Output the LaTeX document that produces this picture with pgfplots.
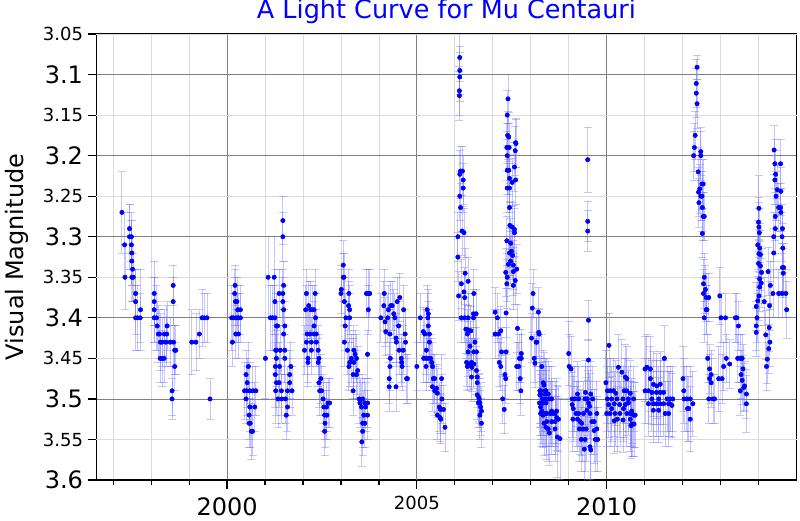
\documentclass[border=0pt]{standalone}
\usepackage{fontspec}
\setmainfont{DejaVu Sans}
\usepackage{pgfplots}
\pgfplotsset{compat=1.18}
\usepackage{pgfplotstable}

% visual magnitude estimates
\pgfplotstableread{
year mag err
1997.23 3.270 0.050
1997.30 3.310 0.040
1997.31 3.350 0.040
1997.43 3.290 0.030
1997.43 3.300 0.040
1997.48 3.300 0.030
1997.48 3.310 0.030
1997.49 3.320 0.040
1997.49 3.330 0.030
1997.51 3.340 0.040
1997.49 3.350 0.030
1997.53 3.350 0.030
1997.59 3.370 0.030
1997.59 3.380 0.040
1997.59 3.400 0.040
1997.64 3.400 0.040
1997.71 3.400 0.030
1997.72 3.390 0.050
1998.08 3.370 0.040
1998.08 3.380 0.030
1998.08 3.390 0.040
1998.08 3.400 0.030
1998.14 3.400 0.040
1998.16 3.410 0.030
1998.19 3.420 0.035
1998.22 3.420 0.030
1998.24 3.430 0.035
1998.29 3.430 0.030
1998.24 3.450 0.030
1998.29 3.450 0.035
1998.34 3.450 0.030
1998.35 3.420 0.030
1998.41 3.420 0.035
1998.39 3.430 0.030
1998.42 3.410 0.030
1998.50 3.430 0.030
1998.58 3.360 0.025
1998.58 3.380 0.030
1998.59 3.430 0.030
1998.62 3.440 0.030
1998.65 3.440 0.030
1998.62 3.460 0.030
1998.55 3.490 0.030
1998.55 3.500 0.025
1999.07 3.430 0.040
1999.18 3.430 0.035
1999.27 3.420 0.030
1999.34 3.400 0.035
1999.40 3.400 0.030
1999.47 3.400 0.030
1999.55 3.500 0.025
2000.12 3.400 0.040
2000.16 3.400 0.030
2000.14 3.430 0.030
2000.21 3.360 0.025
2000.20 3.370 0.030
2000.22 3.380 0.030
2000.26 3.380 0.030
2000.24 3.400 0.030
2000.30 3.400 0.030
2000.35 3.400 0.030
2000.28 3.390 0.030
2000.35 3.390 0.030
2000.23 3.420 0.030
2000.30 3.420 0.030
2000.56 3.460 0.030
2000.50 3.470 0.030
2000.53 3.480 0.030
2000.46 3.490 0.035
2000.52 3.490 0.030
2000.60 3.490 0.035
2000.68 3.490 0.030
2000.76 3.490 0.030
2000.50 3.500 0.030
2000.60 3.510 0.030
2000.73 3.510 0.030
2000.58 3.520 0.030
2000.58 3.530 0.030
2000.61 3.530 0.030
2000.64 3.540 0.035
2000.67 3.540 0.030
2001.01 3.450 0.050
2001.08 3.350 0.050
2001.24 3.350 0.050
2001.14 3.400 0.040
2001.20 3.400 0.040
2001.26 3.400 0.040
2001.26 3.380 0.040
2001.30 3.410 0.040
2001.28 3.440 0.040
2001.28 3.490 0.040
2001.27 3.460 0.040
2001.27 3.470 0.040
2001.30 3.480 0.040
2001.34 3.500 0.035
2001.30 3.450 0.035
2001.47 3.280 0.030
2001.47 3.300 0.030
2001.37 3.370 0.030
2001.47 3.370 0.030
2001.49 3.360 0.030
2001.47 3.380 0.030
2001.49 3.390 0.030
2001.33 3.410 0.030
2001.52 3.410 0.030
2001.49 3.420 0.030
2001.30 3.440 0.030
2001.40 3.440 0.030
2001.52 3.440 0.030
2001.52 3.450 0.030
2001.38 3.460 0.030
2001.68 3.460 0.030
2001.65 3.470 0.030
2001.37 3.480 0.030
2001.65 3.480 0.030
2001.43 3.490 0.030
2001.59 3.490 0.030
2001.71 3.490 0.030
2001.44 3.500 0.030
2001.54 3.500 0.030
2001.59 3.510 0.030
2001.56 3.520 0.030
2002.09 3.370 0.030
2002.15 3.385 0.030
2002.07 3.390 0.030
2002.20 3.390 0.035
2002.24 3.390 0.030
2002.29 3.390 0.030
2002.32 3.370 0.030
2002.33 3.400 0.030
2002.29 3.410 0.030
2002.11 3.420 0.030
2002.18 3.420 0.030
2002.29 3.420 0.030
2002.35 3.420 0.030
2002.09 3.430 0.030
2002.22 3.430 0.030
2002.35 3.430 0.030
2002.04 3.440 0.030
2002.22 3.440 0.030
2002.40 3.440 0.030
2002.13 3.450 0.030
2002.42 3.450 0.030
2002.13 3.455 0.030
2002.40 3.455 0.030
2002.47 3.475 0.030
2002.42 3.480 0.030
2002.44 3.490 0.030
2002.49 3.490 0.030
2002.53 3.500 0.030
2002.66 3.505 0.030
2002.70 3.505 0.030
2002.55 3.510 0.030
2002.62 3.510 0.030
2002.57 3.520 0.030
2002.63 3.520 0.030
2002.58 3.530 0.030
2002.57 3.540 0.030
2003.06 3.335 0.030
2003.06 3.350 0.030
2003.08 3.350 0.030
2003.01 3.365 0.030
2003.00 3.370 0.030
2003.21 3.370 0.030
2003.09 3.380 0.030
2003.20 3.385 0.030
2003.23 3.390 0.030
2003.13 3.400 0.030
2003.23 3.400 0.030
2003.11 3.410 0.030
2003.09 3.430 0.030
2003.17 3.440 0.030
2003.34 3.440 0.030
2003.37 3.445 0.030
2003.27 3.450 0.030
2003.41 3.450 0.030
2003.23 3.455 0.030
2003.34 3.455 0.030
2003.21 3.460 0.030
2003.44 3.465 0.030
2003.32 3.470 0.030
2003.41 3.470 0.030
2003.32 3.490 0.030
2003.48 3.500 0.030
2003.57 3.500 0.030
2003.50 3.505 0.030
2003.63 3.505 0.030
2003.54 3.510 0.030
2003.65 3.510 0.030
2003.60 3.520 0.030
2003.57 3.530 0.030
2003.63 3.530 0.030
2003.57 3.540 0.030
2003.55 3.553 0.030
2003.67 3.370 0.030
2003.70 3.445 0.030
2003.72 3.370 0.030
2003.76 3.370 0.030
2003.72 3.390 0.030
2003.70 3.505 0.030
2003.70 3.520 0.030
2004.05 3.400 0.030
2004.14 3.370 0.030
2004.13 3.385 0.030
2004.16 3.405 0.030
2004.18 3.417 0.030
2004.23 3.400 0.030
2004.25 3.390 0.030
2004.31 3.385 0.030
2004.35 3.385 0.030
2004.39 3.395 0.030
2004.29 3.420 0.030
2004.30 3.450 0.030
2004.29 3.460 0.030
2004.27 3.475 0.030
2004.27 3.485 0.030
2004.45 3.425 0.030
2004.46 3.430 0.030
2004.42 3.400 0.030
2004.52 3.410 0.030
2004.48 3.380 0.030
2004.55 3.375 0.030
2004.65 3.390 0.030
2004.69 3.420 0.030
2004.70 3.430 0.030
2004.53 3.440 0.030
2004.64 3.440 0.030
2004.59 3.450 0.030
2004.60 3.455 0.030
2004.61 3.460 0.030
2004.73 3.475 0.030
2004.75 3.475 0.030
2004.45 3.485 0.030
2005.00 3.460 0.030
2005.09 3.400 0.030
2005.17 3.417 0.030
2005.21 3.420 0.030
2005.27 3.390 0.030
2005.30 3.395 0.030
2005.29 3.400 0.030
2005.30 3.410 0.030
2005.33 3.420 0.030
2005.33 3.430 0.030
2005.18 3.450 0.030
2005.24 3.450 0.030
2005.30 3.450 0.030
2005.36 3.450 0.030
2005.25 3.440 0.030
2005.24 3.460 0.030
2005.39 3.455 0.030
2005.41 3.460 0.030
2005.43 3.475 0.030
2005.47 3.475 0.030
2005.41 3.485 0.030
2005.47 3.490 0.030
2005.52 3.487 0.030
2005.54 3.493 0.030
2005.65 3.475 0.030
2005.66 3.500 0.030
2005.59 3.510 0.030
2005.62 3.513 0.030
2005.70 3.513 0.030
2005.54 3.520 0.030
2005.61 3.523 0.030
2005.63 3.525 0.030
2005.74 3.535 0.030
2006.13 3.079 0.030
2006.13 3.095 0.030
2006.13 3.103 0.030
2006.12 3.120 0.030
2006.12 3.126 0.030
2006.15 3.219 0.030
2006.20 3.219 0.030
2006.13 3.223 0.030
2006.22 3.230 0.030
2006.22 3.240 0.030
2006.13 3.250 0.030
2006.15 3.264 0.030
2006.19 3.293 0.030
2006.24 3.295 0.030
2006.08 3.300 0.030
2006.08 3.325 0.030
2006.10 3.373 0.030
2006.27 3.345 0.030
2006.17 3.358 0.030
2006.35 3.355 0.030
2006.24 3.368 0.030
2006.26 3.375 0.030
2006.17 3.400 0.030
2006.26 3.400 0.030
2006.35 3.400 0.030
2006.49 3.400 0.030
2006.50 3.370 0.030
2006.29 3.414 0.030
2006.35 3.415 0.030
2006.42 3.416 0.030
2006.49 3.395 0.030
2006.56 3.395 0.030
2006.33 3.420 0.030
2006.40 3.435 0.030
2006.35 3.442 0.030
2006.53 3.430 0.030
2006.50 3.442 0.030
2006.57 3.442 0.030
2006.31 3.455 0.030
2006.38 3.458 0.030
2006.44 3.455 0.030
2006.50 3.457 0.030
2006.33 3.460 0.030
2006.45 3.461 0.030
2006.44 3.473 0.030
2006.57 3.465 0.030
2006.59 3.473 0.030
2006.59 3.480 0.030
2006.59 3.495 0.030
2006.63 3.498 0.030
2006.64 3.500 0.030
2006.66 3.505 0.030
2006.62 3.505 0.030
2006.68 3.510 0.030
2006.70 3.515 0.030
2006.66 3.520 0.030
2006.70 3.530 0.030
2007.40 3.130 0.030
2007.38 3.150 0.030
2007.39 3.175 0.030
2007.42 3.177 0.030
2007.37 3.190 0.030
2007.43 3.190 0.030
2007.38 3.200 0.030
2007.60 3.184 0.030
2007.61 3.185 0.030
2007.59 3.194 0.030
2007.57 3.214 0.030
2007.38 3.218 0.030
2007.42 3.218 0.030
2007.44 3.228 0.030
2007.51 3.233 0.030
2007.60 3.230 0.030
2007.38 3.240 0.030
2007.44 3.240 0.030
2007.44 3.264 0.030
2007.45 3.286 0.030
2007.51 3.288 0.030
2007.57 3.291 0.030
2007.57 3.295 0.030
2007.37 3.305 0.030
2007.47 3.308 0.030
2007.44 3.320 0.030
2007.49 3.318 0.030
2007.52 3.323 0.030
2007.47 3.330 0.030
2007.41 3.334 0.030
2007.54 3.335 0.030
2007.63 3.340 0.030
2007.34 3.344 0.030
2007.37 3.358 0.030
2007.38 3.350 0.030
2007.54 3.343 0.030
2007.59 3.354 0.030
2007.54 3.360 0.030
2007.35 3.394 0.030
2007.06 3.393 0.030
2007.12 3.400 0.030
2007.06 3.420 0.030
2007.15 3.420 0.030
2007.21 3.416 0.030
2007.17 3.455 0.030
2007.21 3.460 0.030
2007.23 3.442 0.030
2007.35 3.442 0.030
2007.32 3.470 0.030
2007.34 3.475 0.030
2007.26 3.500 0.030
2007.30 3.513 0.030
2007.65 3.413 0.030
2007.70 3.450 0.030
2007.75 3.450 0.030
2007.63 3.460 0.030
2007.68 3.460 0.030
2007.72 3.475 0.030
2007.74 3.490 0.030
2007.75 3.444 0.030
2008.06 3.370 0.030
2008.04 3.388 0.030
2008.02 3.425 0.030
2008.14 3.430 0.030
2008.09 3.450 0.030
2008.11 3.456 0.030
2008.21 3.418 0.030
2008.24 3.490 0.040
2008.26 3.495 0.040
2008.29 3.505 0.040
2008.33 3.505 0.040
2008.40 3.505 0.040
2008.35 3.483 0.040
2008.40 3.490 0.040
2008.26 3.510 0.040
2008.32 3.520 0.040
2008.39 3.518 0.040
2008.35 3.530 0.040
2008.40 3.535 0.040
2008.20 3.393 0.030
2008.22 3.420 0.030
2008.16 3.430 0.030
2008.29 3.460 0.040
2008.33 3.480 0.040
2008.38 3.490 0.040
2008.26 3.490 0.040
2008.24 3.495 0.040
2008.23 3.505 0.040
2008.31 3.500 0.040
2008.40 3.500 0.040
2008.49 3.500 0.040
2008.55 3.500 0.040
2008.38 3.494 0.040
2008.46 3.494 0.040
2008.26 3.518 0.040
2008.33 3.518 0.040
2008.42 3.518 0.040
2008.51 3.518 0.040
2008.58 3.518 0.040
2008.64 3.518 0.040
2008.29 3.515 0.040
2008.55 3.515 0.040
2008.68 3.515 0.040
2008.42 3.528 0.040
2008.55 3.528 0.040
2008.64 3.528 0.040
2008.46 3.537 0.040
2008.49 3.542 0.040
2008.64 3.537 0.040
2008.70 3.547 0.050
2008.77 3.549 0.050
2008.68 3.523 0.040
2008.73 3.525 0.040
2009.00 3.444 0.040
2009.01 3.460 0.040
2009.06 3.463 0.040
2009.09 3.500 0.040
2009.16 3.500 0.040
2009.26 3.500 0.040
2009.43 3.500 0.040
2009.49 3.500 0.040
2009.09 3.507 0.040
2009.12 3.512 0.040
2009.19 3.518 0.040
2009.26 3.518 0.040
2009.39 3.518 0.040
2009.48 3.514 0.040
2009.56 3.518 0.040
2009.52 3.505 0.040
2009.55 3.509 0.040
2009.23 3.494 0.040
2009.44 3.492 0.040
2009.58 3.494 0.040
2009.63 3.500 0.040
2009.11 3.525 0.040
2009.23 3.525 0.040
2009.30 3.528 0.040
2009.34 3.530 0.040
2009.28 3.537 0.040
2009.37 3.537 0.040
2009.46 3.537 0.040
2009.67 3.539 0.040
2009.74 3.537 0.040
2009.33 3.550 0.040
2009.43 3.550 0.040
2009.70 3.550 0.040
2009.76 3.550 0.040
2009.41 3.562 0.040
2009.56 3.559 0.040
2009.58 3.563 0.040
2009.61 3.528 0.040
2009.67 3.528 0.040
2009.74 3.518 0.040
2009.50 3.205 0.040
2009.50 3.281 0.025
2009.50 3.293 0.025
2009.52 3.403 0.025
2009.52 3.452 0.025
2010.06 3.434 0.040
2009.98 3.480 0.040
2010.02 3.490 0.040
2010.09 3.490 0.040
2010.18 3.490 0.040
2010.24 3.493 0.040
2010.02 3.500 0.040
2010.13 3.500 0.040
2010.27 3.500 0.040
2010.43 3.500 0.040
2010.05 3.507 0.040
2010.20 3.506 0.040
2010.34 3.507 0.040
2010.49 3.507 0.040
2010.00 3.518 0.040
2010.09 3.518 0.040
2010.22 3.518 0.040
2010.35 3.518 0.040
2010.53 3.518 0.040
2010.66 3.518 0.040
2010.13 3.512 0.040
2010.44 3.512 0.040
2010.20 3.527 0.040
2010.28 3.525 0.040
2010.43 3.526 0.040
2010.31 3.461 0.040
2010.40 3.467 0.040
2010.49 3.473 0.040
2010.53 3.475 0.040
2010.46 3.490 0.040
2010.53 3.490 0.040
2010.62 3.493 0.040
2010.57 3.500 0.040
2010.71 3.500 0.040
2010.62 3.525 0.040
2010.66 3.531 0.040
2010.72 3.531 0.040
2010.57 3.505 0.040
2010.62 3.518 0.040
2010.66 3.515 0.040
2010.71 3.520 0.040
2010.75 3.520 0.040
2010.64 3.533 0.040
2010.69 3.531 0.040
2011.01 3.463 0.040
2011.06 3.461 0.040
2011.15 3.463 0.040
2011.15 3.475 0.040
2011.01 3.490 0.040
2011.10 3.490 0.040
2011.19 3.492 0.040
2011.31 3.492 0.040
2011.41 3.492 0.040
2011.50 3.492 0.040
2011.23 3.482 0.040
2011.32 3.484 0.040
2011.41 3.482 0.040
2011.10 3.506 0.040
2011.23 3.506 0.040
2011.32 3.506 0.040
2011.41 3.506 0.040
2011.50 3.506 0.040
2011.63 3.506 0.040
2011.19 3.500 0.040
2011.37 3.500 0.040
2011.59 3.500 0.040
2011.67 3.500 0.040
2011.74 3.500 0.040
2011.23 3.514 0.040
2011.37 3.514 0.040
2011.54 3.518 0.040
2011.63 3.518 0.040
2011.52 3.450 0.040
2011.66 3.506 0.040
2011.72 3.508 0.040
2012.01 3.475 0.040
2012.03 3.490 0.040
2012.04 3.500 0.040
2012.11 3.500 0.040
2012.20 3.500 0.040
2012.27 3.506 0.040
2012.13 3.512 0.040
2012.16 3.512 0.040
2012.20 3.525 0.040
2012.38 3.091 0.015
2012.36 3.111 0.030
2012.36 3.123 0.030
2012.38 3.136 0.030
2012.33 3.175 0.030
2012.31 3.190 0.030
2012.29 3.200 0.030
2012.48 3.195 0.030
2012.48 3.200 0.030
2012.41 3.220 0.030
2012.45 3.241 0.030
2012.42 3.245 0.030
2012.51 3.235 0.030
2012.54 3.235 0.030
2012.48 3.250 0.030
2012.51 3.250 0.030
2012.43 3.258 0.030
2012.52 3.264 0.030
2012.54 3.275 0.030
2012.57 3.275 0.030
2012.52 3.296 0.030
2012.57 3.350 0.030
2012.55 3.358 0.030
2012.60 3.365 0.030
2012.55 3.370 0.030
2012.62 3.375 0.030
2012.62 3.390 0.030
2012.57 3.400 0.030
2012.66 3.450 0.030
2012.71 3.475 0.030
2012.75 3.480 0.030
2012.69 3.500 0.030
2012.80 3.500 0.030
2012.84 3.500 0.030
2012.69 3.375 0.030
2012.64 3.390 0.030
2012.71 3.463 0.030
2012.75 3.470 0.030
2012.98 3.373 0.035
2013.01 3.400 0.030
2013.13 3.400 0.030
2012.95 3.475 0.040
2013.04 3.475 0.030
2013.08 3.460 0.030
2013.15 3.450 0.030
2013.24 3.457 0.030
2013.39 3.400 0.030
2013.43 3.400 0.030
2013.47 3.410 0.030
2013.45 3.450 0.030
2013.52 3.450 0.030
2013.57 3.450 0.030
2013.59 3.463 0.030
2013.54 3.470 0.030
2013.57 3.477 0.030
2013.63 3.484 0.030
2013.68 3.494 0.030
2013.52 3.490 0.030
2013.61 3.486 0.030
2013.68 3.506 0.035
2013.94 3.386 0.030
2013.96 3.400 0.030
2013.94 3.410 0.030
2013.94 3.418 0.030
2014.01 3.265 0.040
2014.00 3.282 0.030
2014.01 3.288 0.030
2014.02 3.295 0.030
2013.98 3.310 0.030
2014.03 3.314 0.030
2014.01 3.321 0.030
2014.05 3.322 0.030
2014.00 3.333 0.030
2014.05 3.336 0.030
2014.08 3.344 0.030
2014.03 3.352 0.030
2014.07 3.357 0.030
2014.03 3.362 0.030
2014.01 3.373 0.030
2013.98 3.379 0.030
2014.15 3.380 0.030
2014.19 3.421 0.030
2014.23 3.451 0.030
2014.21 3.460 0.030
2014.27 3.438 0.030
2014.30 3.430 0.030
2014.28 3.412 0.030
2014.29 3.385 0.030
2014.25 3.343 0.030
2014.31 3.360 0.030
2014.41 3.193 0.030
2014.43 3.210 0.030
2014.45 3.223 0.030
2014.43 3.230 0.030
2014.46 3.250 0.030
2014.49 3.242 0.030
2014.53 3.264 0.030
2014.58 3.264 0.030
2014.58 3.210 0.030
2014.59 3.244 0.030
2014.44 3.275 0.030
2014.40 3.300 0.030
2014.59 3.270 0.030
2014.63 3.290 0.030
2014.62 3.300 0.030
2014.44 3.290 0.030
2014.40 3.320 0.030
2014.64 3.314 0.030
2014.63 3.338 0.030
2014.65 3.345 0.030
2014.66 3.338 0.030
2014.38 3.370 0.030
2014.53 3.370 0.030
2014.62 3.370 0.030
2014.72 3.370 0.030
2014.74 3.390 0.035
}\mucen

\newcommand{\bigfont}{\fontsize{24}{24}\selectfont}
\newcommand{\smallfont}{\fontsize{18}{18}\selectfont}
\definecolor{barblue}{RGB}{110,110,255}

\begin{document}
\begin{tikzpicture}
\path[use as bounding box] (-96.5pt,-40pt) rectangle (703.5pt,480pt);
\begin{axis}[
  scale only axis,
  width=700pt, height=446pt,
  xmin=1996.56, xmax=2015.0,
  ymin=3.05, ymax=3.6,
  y dir=reverse,
  axis line style={line width=1.5pt},
  xtick={2000,2010},
  xticklabels={2000,2010},
  extra x ticks={2005},
  extra x tick labels={2005},
  extra x tick style={tick label style={font=\smallfont, yshift=1pt}},
  minor xtick={1997,1998,1999,2001,2002,2003,2004,2006,2007,2008,2009,2011,2012,2013,2014},
  ytick={3.1,3.2,3.3,3.4,3.5,3.6},
  yticklabels={3.1,3.2,3.3,3.4,3.5,3.6},
  extra y ticks={3.05,3.15,3.25,3.35,3.45,3.55},
  extra y tick labels={3.05,3.15,3.25,3.35,3.45,3.55},
  extra y tick style={
    tick label style={font=\smallfont},
    major grid style={black!14, line width=0.8pt}},
  xtick pos=bottom, ytick pos=left,
  tick align=outside,
  major tick length=9pt,
  minor tick length=5pt,
  tick style={black, line width=1.2pt},
  tick label style={font=\bigfont},
  yticklabel style={xshift=-1pt},
  xticklabel style={yshift=-5pt},
  grid=both,
  major grid style={black!50, line width=0.8pt},
  minor grid style={black!14, line width=0.8pt},
  title={A Light Curve for Mu Centauri},
  title style={font=\fontsize{25.5}{25.5}\selectfont, text=blue,
    at={(0.5,1)}, anchor=base, yshift=10pt},
  ylabel={Visual Magnitude},
  ylabel style={font=\bigfont, at={(axis description cs:-0.114,0.5)}, anchor=center},
  after end axis/.code={
    \foreach \t in {364.9,283.8,202.7,121.6,40.5}
      \draw[line width=1.2pt] (702pt,\t pt) -- (690pt,\t pt);
  },
]
% bars
\addplot[only marks, mark=none, color=barblue,
  error bars/.cd, y dir=both, y explicit, error mark=none,
  error bar style={draw=barblue, opacity=0.4, line width=0.9pt},
] table[x=year, y=mag, y error=err] {\mucen};
% caps
\addplot[only marks, color=barblue, mark=-, mark size=4pt,
  mark options={draw=barblue, opacity=0.4, line width=0.9pt}]
  table[x=year, y expr=\thisrow{mag}+\thisrow{err}] {\mucen};
\addplot[only marks, color=barblue, mark=-, mark size=4pt,
  mark options={draw=barblue, opacity=0.4, line width=0.9pt}]
  table[x=year, y expr=\thisrow{mag}-\thisrow{err}] {\mucen};
% points
\addplot[only marks, mark=*, mark size=2.2pt, color=blue,
  mark options={fill=blue, draw=blue}] table[x=year, y=mag] {\mucen};
\end{axis}
\end{tikzpicture}
\end{document}
